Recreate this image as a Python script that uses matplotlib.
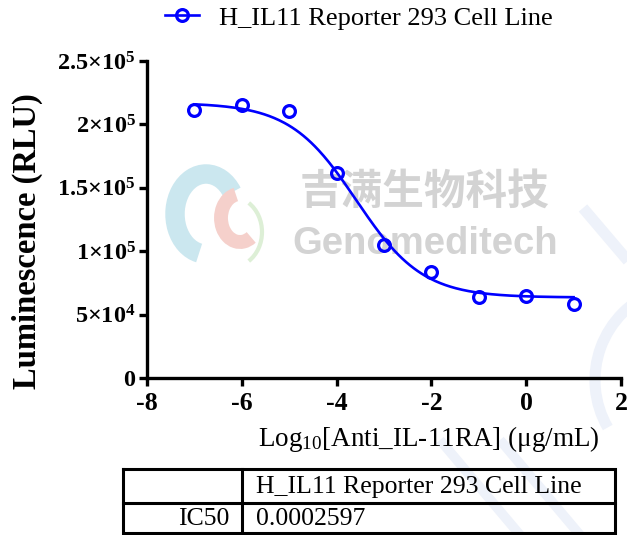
import numpy as np
import matplotlib
matplotlib.use("Agg")
import matplotlib.pyplot as plt
from matplotlib.lines import Line2D
from matplotlib.patches import Arc

plt.rcParams['font.family'] = ['Liberation Serif', 'DejaVu Serif']
plt.rcParams['mathtext.fontset'] = 'custom'
plt.rcParams['mathtext.rm'] = 'Liberation Serif'
plt.rcParams['mathtext.it'] = 'Liberation Serif:italic'
plt.rcParams['mathtext.bf'] = 'Liberation Serif:bold'

# ---- data ----
series_name = "H_IL11 Reporter 293 Cell Line"
log_conc = [-7, -6, -5, -4, -3, -2, -1, 0, 1]
rlu = [211000, 215500, 210500, 161800, 104600, 83600, 63800, 64800, 58500]

# 4PL fit parameters
fit_top = 217000
fit_bottom = 63500
fit_log_ic50 = np.log10(0.0002597)
fit_hill = 0.62

x_ticks = [-8, -6, -4, -2, 0, 2]
y_ticks = [0, 50000, 100000, 150000, 200000, 250000]
y_tick_labels = [r'$\mathbf{0}$', r'$\mathbf{5{\times}10^{4}}$', r'$\mathbf{1{\times}10^{5}}$',
                 r'$\mathbf{1.5{\times}10^{5}}$', r'$\mathbf{2{\times}10^{5}}$', r'$\mathbf{2.5{\times}10^{5}}$']

table_header = ["", "H_IL11 Reporter 293 Cell Line"]
table_row = ["IC50", "0.0002597"]

W, H = 627, 535
fig = plt.figure(figsize=(W / 100, H / 100), dpi=100)
fig.patch.set_facecolor('white')

def fx(px):
    return px / W

def fy(py):
    return 1 - py / H

# ---- background decoration / watermark ----
bg = fig.add_axes([0, 0, 1, 1], zorder=-5)
bg.set_xlim(0, W)
bg.set_ylim(H, 0)
bg.axis('off')
deco = '#eef2fa'
bg.plot([583, 640], [208, 275], color=deco, lw=8, solid_capstyle='butt')
bg.add_patch(Arc((690, 380), 190, 190, theta1=150, theta2=250, color=deco, lw=8))
for x0 in [440, 500]:
    bg.plot([x0, x0 + 80], [440, 535], color=deco, lw=7, solid_capstyle='butt')
# logo
bg.add_patch(Arc((206, 214), 62, 80, theta1=100, theta2=320, color='#cbe7ef', lw=14))
bg.add_patch(Arc((240, 218), 38, 48, theta1=60, theta2=260, color='#f5d0cb', lw=10))
bg.add_patch(Arc((232, 232), 60, 70, theta1=300, theta2=60, color='#ddefd6', lw=3))
bg.text(425, 192, "吉满生物科技", fontsize=30, fontweight='bold', color='#d3d3d3',
        family=['Noto Sans CJK SC'], ha='center', va='center')
bg.text(425, 244, "Genomeditech", fontsize=27.5, fontweight='bold', color='#d3d3d3',
        family=['Liberation Sans'], ha='center', va='center')

# ---- main axes ----
ax = fig.add_axes([fx(147), fy(378), fx(621) - fx(147), fy(61) - fy(378)])
ax.patch.set_alpha(0)
blue = '#0000ff'
xc = np.linspace(min(log_conc), max(log_conc), 300)
yc = fit_bottom + (fit_top - fit_bottom) / (1 + 10 ** ((xc - fit_log_ic50) * fit_hill))
ax.plot(xc, yc, color=blue, lw=1.9, zorder=3)
ax.plot(log_conc, rlu, linestyle='none', marker='o', markersize=8.5, markerfacecolor='none',
        markeredgecolor=blue, markeredgewidth=2.3, zorder=4)

ax.set_xlim(-8, 2)
ax.set_ylim(0, 250000)
ax.set_xticks(x_ticks)
ax.set_xticklabels([str(t) for t in x_ticks], fontweight='bold', fontsize=18.5)
ax.set_yticks(y_ticks)
ax.set_yticklabels(y_tick_labels, fontsize=17.5)
for s in ['top', 'right']:
    ax.spines[s].set_visible(False)
for s in ['left', 'bottom']:
    ax.spines[s].set_linewidth(2.4)
ax.tick_params(axis='both', direction='out', length=6, width=2.4)
ax.tick_params(axis='x', pad=4)
ax.tick_params(axis='y', pad=2)
ax.set_ylabel("Luminescence (RLU)", fontsize=23.5, fontweight='bold')
ax.yaxis.set_label_coords(-0.219, 0.432)
ax.set_xlabel(r"Log$_{10}$[Anti_IL-11RA] ($\mathrm{\mu}$g/mL)", fontsize=19.5)
ax.xaxis.set_label_coords(0.595, -0.145)

# legend
handle = Line2D([], [], color=blue, lw=1.9, marker='o', markersize=8.5, markerfacecolor='none',
                markeredgecolor=blue, markeredgewidth=2.3)
fig.legend([handle], [series_name], loc='center', bbox_to_anchor=(fx(359), fy(18)),
           frameon=False, fontsize=19, handlelength=1.3, handletextpad=0.75,
           borderpad=0, borderaxespad=0)

# ---- table ----
tl, tr = 123, 615
tt, tm, tb = 469, 503, 533
tc = 242
lw = 2.2
tab = fig.add_axes([0, 0, 1, 1], zorder=5)
tab.set_xlim(0, W)
tab.set_ylim(H, 0)
tab.axis('off')
tab.patch.set_alpha(0)
tab.plot([tl, tr, tr, tl, tl], [tt, tt, tb, tb, tt], color='black', lw=lw, solid_joinstyle='miter')
tab.plot([tl, tr], [tm, tm], color='black', lw=lw)
tab.plot([tc, tc], [tt, tb], color='black', lw=lw)
tab.text(tc + 14, (tt + tm) / 2 + 1, table_header[1], fontsize=18.5, ha='left', va='center')
tab.text(tc - 13, (tm + tb) / 2 + 1, table_row[0], fontsize=18.5, ha='right', va='center')
tab.text(tc + 14, (tm + tb) / 2 + 1, table_row[1], fontsize=18.5, ha='left', va='center')

fig.savefig("out.png", dpi=100, facecolor='white')
